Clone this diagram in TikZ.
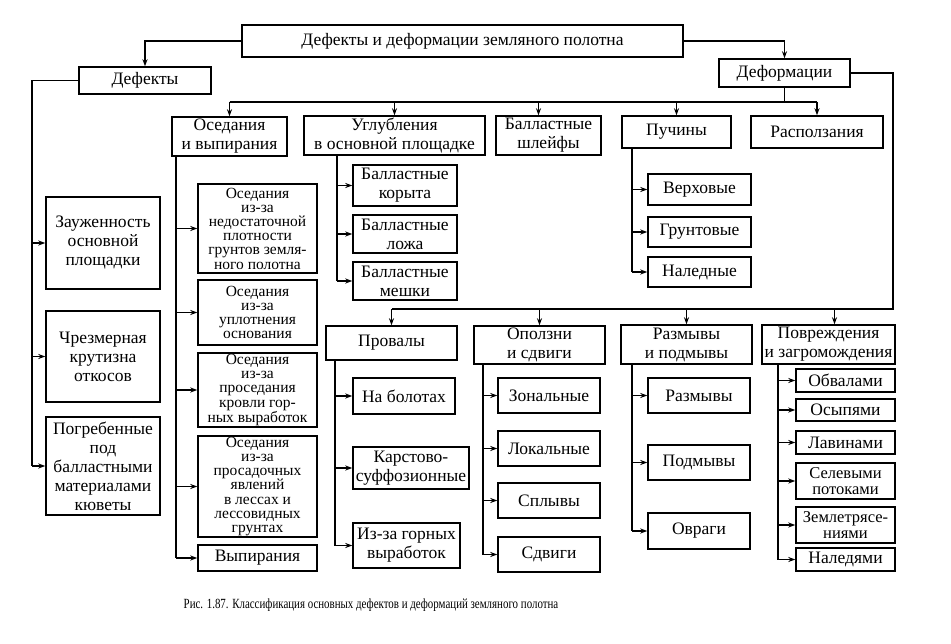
\documentclass[tikz,border=0pt]{standalone}
\usepackage{fontspec}
\setmainfont{Liberation Serif}
\usetikzlibrary{arrows.meta}
\begin{document}
\begin{tikzpicture}[x=1pt, y=-1pt,
    box/.style={draw, line width=1.4pt, inner sep=0pt, align=center, font=\fontsize{17.5}{19}\selectfont},
    dense/.style={box, font=\fontsize{15.5}{14.2}\selectfont},
    conn/.style={line width=1.2pt},
    arr/.style={conn, -{Stealth[length=7pt, width=5pt]}}]
    \useasboundingbox (0,0) rectangle (951,644);
    % Root and main branches
    \node[box, minimum width=441pt, minimum height=32pt] (root) at (462.5,41) {Дефекты и деформации земляного полотна};
    \node[box, minimum width=132pt, minimum height=27pt] (def) at (145,80.5) {Дефекты};
    \node[box, minimum width=131pt, minimum height=28pt] (deform) at (784.5,73) {Деформации};
    \draw[arr] (root.west) -| (def.north);
    \draw[arr] (root.east) -| (deform.north);
    % Defects
    \node[box, minimum width=114pt, minimum height=92pt] (zau) at (103,243) {Зауженность\\основной\\площадки};
    \node[box, minimum width=114pt, minimum height=91pt] (chrez) at (103,356.5) {Чрезмерная\\крутизна\\откосов};
    \node[box, minimum width=114pt, minimum height=98pt] (pogr) at (103,466) {Погребенные\\под\\балластными\\материалами\\кюветы};
    \coordinate (dbus) at (32,80.5);
    \draw[conn] (def.west) -- (dbus) -- (dbus |- pogr.west);
    \draw[arr] (dbus |- zau.west) -- (zau.west); \draw[arr] (dbus |- chrez.west) -- (chrez.west);
    \draw[arr] (dbus |- pogr.west) -- (pogr.west);
    % Upper row of deformations
    \node[box, minimum width=115pt, minimum height=39pt] (osed) at (229.5,136.5) {Оседания\\и выпирания};
    \node[box, minimum width=181pt, minimum height=39pt] (uglub) at (394.5,135.5) {Углубления\\в основной площадке};
    \node[box, minimum width=105pt, minimum height=39pt] (shleif) at (548.5,135.5) {Балластные\\шлейфы};
    \node[box, minimum width=109pt, minimum height=32pt] (puch) at (676.5,132) {Пучины};
    \node[box, minimum width=132pt, minimum height=32pt] (raspolz) at (817,132) {Расползания};
    \coordinate (tbus) at (784.5,102);
    \draw[conn] (deform.south) -- (tbus);
    \draw[conn] (osed.north |- tbus) -- (raspolz.north |- tbus);
    \draw[arr] (osed.north |- tbus) -- (osed.north); \draw[arr] (uglub.north |- tbus) -- (uglub.north);
    \draw[arr] ([xshift=-10pt]shleif.north |- tbus) -- ([xshift=-10pt]shleif.north);
    \draw[arr] (puch.north |- tbus) -- (puch.north); \draw[arr] (raspolz.north |- tbus) -- (raspolz.north);
    % Settlements
    \node[dense, minimum width=119pt, minimum height=89pt] (os1) at (257.5,228.5) {Оседания\\из-за\\недостаточной\\плотности\\грунтов земля-\\ного полотна};
    \node[dense, minimum width=119pt, minimum height=65pt] (os2) at (257.5,312.5) {Оседания\\из-за\\уплотнения\\основания};
    \node[dense, minimum width=119pt, minimum height=74pt] (os3) at (257.5,390) {Оседания\\из-за\\проседания\\кровли гор-\\ных выработок};
    \node[dense, minimum width=119pt, minimum height=101pt] (os4) at (257.5,486.5) {Оседания\\из-за\\просадочных\\явлений\\в лессах и\\лессовидных\\грунтах};
    \node[box, minimum width=119pt, minimum height=26pt] (vyp) at (257.5,558) {Выпирания};
    \coordinate (osedtr) at (176,156);
    \draw[conn] (osedtr) -- (osedtr |- vyp.west);
    \draw[arr] (osedtr |- os1.west) -- (os1.west); \draw[arr] (osedtr |- os2.west) -- (os2.west);
    \draw[arr] (osedtr |- os3.west) -- (os3.west); \draw[arr] (osedtr |- os4.west) -- (os4.west);
    \draw[arr] (osedtr |- vyp.west) -- (vyp.west);
    % Hollows
    \node[box, minimum width=104pt, minimum height=41pt] (ug1) at (405,185.5) {Балластные\\корыта};
    \node[box, minimum width=104pt, minimum height=38pt] (ug2) at (405,234) {Балластные\\ложа};
    \node[box, minimum width=104pt, minimum height=38pt] (ug3) at (405,281) {Балластные\\мешки};
    \coordinate (uglubtr) at (337,155);
    \draw[conn] (uglubtr) -- (uglubtr |- ug3.west);
    \draw[arr] (uglubtr |- ug1.west) -- (ug1.west); \draw[arr] (uglubtr |- ug2.west) -- (ug2.west);
    \draw[arr] (uglubtr |- ug3.west) -- (ug3.west);
    % Frost heaves
    \node[box, minimum width=103pt, minimum height=31pt] (pu1) at (699.5,189.5) {Верховые};
    \node[box, minimum width=103pt, minimum height=30pt] (pu2) at (699.5,232) {Грунтовые};
    \node[box, minimum width=103pt, minimum height=30pt] (pu3) at (699.5,272) {Наледные};
    \coordinate (puchtr) at (632,148);
    \draw[conn] (puchtr) -- (puchtr |- pu3.west);
    \draw[arr] (puchtr |- pu1.west) -- (pu1.west); \draw[arr] (puchtr |- pu2.west) -- (pu2.west);
    \draw[arr] (puchtr |- pu3.west) -- (pu3.west);
    % Lower row of deformations
    \node[box, minimum width=131pt, minimum height=34pt] (proval) at (391.5,343) {Провалы};
    \node[box, minimum width=131pt, minimum height=38pt] (opolz) at (539.5,345) {Оползни\\и сдвиги};
    \node[box, minimum width=131pt, minimum height=39pt] (razmyv) at (686.5,344.5) {Размывы\\и подмывы};
    \node[box, minimum width=133pt, minimum height=39pt] (povr) at (828.5,344.5) {Повреждения\\и загромождения};
    \coordinate (rbus) at (893,309);
    \draw[conn] (deform.east) -| (rbus) -- (proval.north |- rbus);
    \draw[arr] (proval.north |- rbus) -- (proval.north); \draw[arr] (opolz.north |- rbus) -- (opolz.north);
    \draw[arr] (razmyv.north |- rbus) -- (razmyv.north);
    \draw[arr] ([xshift=6pt]povr.north |- rbus) -- ([xshift=6pt]povr.north);
    % Sinkholes
    \node[box, minimum width=102pt, minimum height=36pt] (pr1) at (404,396) {На болотах};
    \node[box, minimum width=116pt, minimum height=42pt] (pr2) at (411,468) {Карстово-\\суффозионные};
    \node[box, minimum width=107pt, minimum height=45pt] (pr3) at (406.5,545.5) {Из-за горных\\выработок};
    \coordinate (provaltr) at (335,360);
    \draw[conn] (provaltr) -- (provaltr |- pr3.west);
    \draw[arr] (provaltr |- pr1.west) -- (pr1.west); \draw[arr] (provaltr |- pr2.west) -- (pr2.west);
    \draw[arr] (provaltr |- pr3.west) -- (pr3.west);
    % Landslides
    \node[box, minimum width=102pt, minimum height=35pt] (op1) at (549,395.5) {Зональные};
    \node[box, minimum width=102pt, minimum height=35pt] (op2) at (549,448.5) {Локальные};
    \node[box, minimum width=102pt, minimum height=35pt] (op3) at (549,500.5) {Сплывы};
    \node[box, minimum width=102pt, minimum height=35pt] (op4) at (549,554.5) {Сдвиги};
    \coordinate (opolztr) at (483,364);
    \draw[conn] (opolztr) -- (opolztr |- op4.west);
    \draw[arr] (opolztr |- op1.west) -- (op1.west); \draw[arr] (opolztr |- op2.west) -- (op2.west);
    \draw[arr] (opolztr |- op3.west) -- (op3.west); \draw[arr] (opolztr |- op4.west) -- (op4.west);
    % Washouts
    \node[box, minimum width=102pt, minimum height=35pt] (rz1) at (699,395.5) {Размывы};
    \node[box, minimum width=102pt, minimum height=35pt] (rz2) at (699,462.5) {Подмывы};
    \node[box, minimum width=102pt, minimum height=36pt] (rz3) at (699,531) {Овраги};
    \coordinate (razmyvtr) at (632,364);
    \draw[conn] (razmyvtr) -- (razmyvtr |- rz3.west);
    \draw[arr] (razmyvtr |- rz1.west) -- (rz1.west); \draw[arr] (razmyvtr |- rz2.west) -- (rz2.west);
    \draw[arr] (razmyvtr |- rz3.west) -- (rz3.west);
    % Damage and blockage
    \node[box, minimum width=99pt, minimum height=23pt] (pv1) at (845.5,380.5) {Обвалами};
    \node[box, minimum width=99pt, minimum height=22pt] (pv2) at (845.5,410) {Осыпями};
    \node[box, minimum width=99pt, minimum height=23pt] (pv3) at (845.5,442.5) {Лавинами};
    \node[dense, minimum width=99pt, minimum height=36pt, font=\fontsize{16.5}{16.5}\selectfont] (pv4) at (845.5,481) {Селевыми\\потоками};
    \node[dense, minimum width=99pt, minimum height=36pt, font=\fontsize{16.5}{16.5}\selectfont] (pv5) at (845.5,525) {Землетрясе-\\ниями};
    \node[box, minimum width=99pt, minimum height=23pt] (pv6) at (845.5,559.5) {Наледями};
    \coordinate (povrtr) at (778,364);
    \draw[conn] (povrtr) -- (povrtr |- pv6.west);
    \draw[arr] (povrtr |- pv1.west) -- (pv1.west); \draw[arr] (povrtr |- pv2.west) -- (pv2.west);
    \draw[arr] (povrtr |- pv3.west) -- (pv3.west); \draw[arr] (povrtr |- pv4.west) -- (pv4.west);
    \draw[arr] (povrtr |- pv5.west) -- (pv5.west); \draw[arr] (povrtr |- pv6.west) -- (pv6.west);
    % Caption
    \node[font=\fontsize{14}{16}\selectfont] (caption) at (371,605) {\scalebox{0.78}[1]{Рис. 1.87. Классификация основных дефектов и деформаций земляного полотна}};
\end{tikzpicture}
\end{document}
